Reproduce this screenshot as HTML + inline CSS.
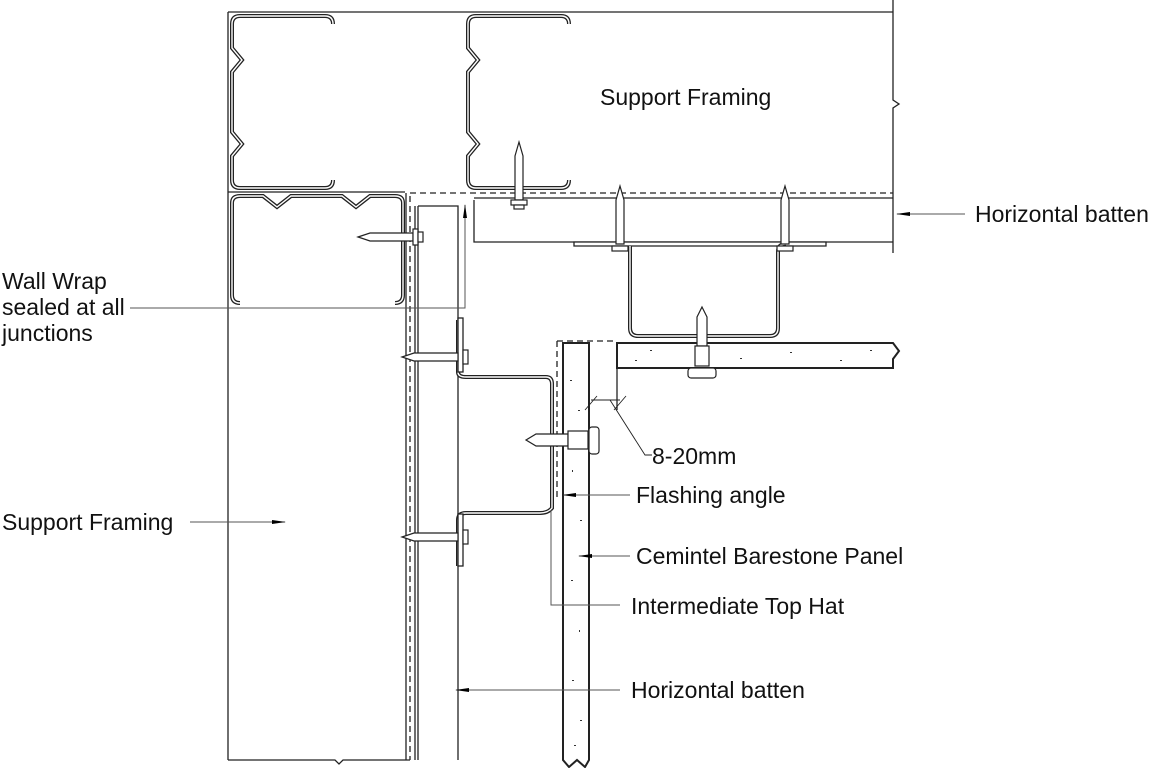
<!DOCTYPE html>
<html><head><meta charset="utf-8"><style>
html,body{margin:0;padding:0;background:#fff;width:1151px;height:768px;overflow:hidden}
text{font-family:"Liberation Sans",sans-serif;font-size:23px;fill:#111}
</style></head><body>
<svg width="1151" height="768" viewBox="0 0 1151 768" xmlns="http://www.w3.org/2000/svg">
<defs><marker id="a" markerWidth="14" markerHeight="6" refX="13" refY="3" orient="auto" markerUnits="userSpaceOnUse"><path d="M0,1 L14,3 L0,5z" fill="#000"/></marker></defs>
<g fill="none" stroke="#222" stroke-width="1.3">
<path d="M228,12 H893 M893,0 V100 l6,4 -6,4 V253 M228,12 V760 M228,760 H335 l4,4 4,-4 H410"/>
<g id="c1">
<path d="M333,24 Q333,16 325,16 H240 Q232,16 232,24 V48 L242,60 L232,72 V132 L242,144 L232,156 V180 Q232,188 240,188 H325 Q333,188 333,180" stroke-width="4"/>
<path d="M333,24 Q333,16 325,16 H240 Q232,16 232,24 V48 L242,60 L232,72 V132 L242,144 L232,156 V180 Q232,188 240,188 H325 Q333,188 333,180" stroke="#fff" stroke-width="1.4"/>
</g>
<g transform="translate(236,0)">
<path d="M333,24 Q333,16 325,16 H240 Q232,16 232,24 V48 L242,60 L232,72 V132 L242,144 L232,156 V180 Q232,188 240,188 H325 Q333,188 333,180" stroke-width="4"/>
<path d="M333,24 Q333,16 325,16 H240 Q232,16 232,24 V48 L242,60 L232,72 V132 L242,144 L232,156 V180 Q232,188 240,188 H325 Q333,188 333,180" stroke="#fff" stroke-width="1.4"/>
</g>
<path d="M228,192 H405"/>
<path d="M240,303 Q232,303 232,295 V203 Q232,196 240,196 H263 L277,207 L291,196 H342 L356,207 L370,196 H395 Q403,196 403,203 V295 Q403,303 395,303" stroke-width="4"/>
<path d="M240,303 Q232,303 232,295 V203 Q232,196 240,196 H263 L277,207 L291,196 H342 L356,207 L370,196 H395 Q403,196 403,203 V295 Q403,303 395,303" stroke="#fff" stroke-width="1.4"/>
<path d="M406,193 V760 M415,206 V760 M418,206 V760 M418,206 H458 V760"/>
<path d="M410,196 V760 M410,193 H893" stroke-dasharray="6,4"/>
<path d="M474,198 H893 M474,200 V242 H893"/>
<path d="M574,242 H826 V246 H574z" fill="#fff"/>
<path d="M630,246 V328 Q630,336 638,336 H770 Q778,336 778,328 V252 Q778,244 786,244" stroke-width="4"/>
<path d="M630,246 V328 Q630,336 638,336 H770 Q778,336 778,328 V252 Q778,244 786,244" stroke="#fff" stroke-width="1.4"/>
<path d="M617,343 H893 l6,8 -6,8 V368 H617z" stroke-width="2"/>
<path d="M557,341 H617 M557,341 V500" stroke-dasharray="6,4"/>
<path d="M617,368 V410"/>
<path d="M563,343 H589 V760 l-4,7 -8,-7 -8,7 -6,-7 V343z" stroke-width="2"/>
<path d="M458,320 V372 Q458,377 466,377 H546 Q552,377 552,384 V508 Q548,513 540,513 H466 Q458,513 458,520 V566" stroke-width="4"/>
<path d="M458,320 V372 Q458,377 466,377 H546 Q552,377 552,384 V508 Q548,513 540,513 H466 Q458,513 458,520 V566" stroke="#fff" stroke-width="1.4"/>
<rect x="458" y="318" width="5" height="54" fill="#fff"/>
<rect x="458" y="514" width="5" height="52" fill="#fff"/>
<g stroke-width="1.2" fill="#fff">
<path d="M358,237 L370,233 H413 V241 H370z"/><rect x="413" y="229" width="5" height="16"/><rect x="418" y="232" width="5" height="10"/>
<path d="M402,357 L414,353 H458 V361 H414z"/><rect x="463" y="350" width="5" height="14"/>
<path d="M402,537 L414,533 H458 V541 H414z"/><rect x="463" y="530" width="5" height="14"/>
<path d="M519,142 L523,156 V200 H515 V156z"/><rect x="511" y="200" width="16" height="5"/><rect x="514" y="205" width="10" height="4"/>
<path d="M620,186 L624,200 V244 H616 V200z"/><rect x="612" y="246" width="16" height="5"/>
<path d="M785,186 L789,200 V244 H781 V200z"/><rect x="777" y="246" width="16" height="5"/>
<path d="M702,307 L707,317 V346 H697 V317z"/><rect x="695" y="346" width="14" height="20"/><rect x="688" y="368" width="28" height="10" rx="3"/>
<path d="M526,440 L536,434 H568 V446 H536z"/><rect x="568" y="431" width="20" height="18"/><rect x="589" y="427" width="10" height="27" rx="3"/>
</g>
<path d="M591,400 H620 M585,410 l12,-14 M614,410 l12,-14 M610,400 L645,455 H652" stroke-width="0.9"/>
</g>
<g fill="#333">
<rect x="570" y="380" width="2" height="1"/><rect x="578" y="410" width="2" height="1"/><rect x="572" y="470" width="1" height="2"/><rect x="580" y="520" width="2" height="1"/><rect x="571" y="580" width="2" height="1"/><rect x="579" y="630" width="1" height="2"/><rect x="572" y="680" width="2" height="1"/><rect x="580" y="720" width="2" height="1"/><rect x="574" y="745" width="2" height="1"/>
<rect x="650" y="350" width="2" height="1"/><rect x="740" y="358" width="2" height="1"/><rect x="790" y="352" width="2" height="1"/><rect x="840" y="360" width="2" height="1"/><rect x="870" y="350" width="2" height="1"/><rect x="635" y="360" width="2" height="1"/>
</g>
<g stroke="#555" stroke-width="1" fill="none">
<path d="M130,308 H465 V205" marker-end="url(#a)"/>
<path d="M965,214 H897" marker-end="url(#a)"/>
<path d="M190,522 H285" marker-end="url(#a)"/>
<path d="M630,495 H563" marker-end="url(#a)"/>
<path d="M630,556 H579" marker-end="url(#a)"/>
<path d="M620,605 H551 V510"/>
<path d="M620,690 H456" marker-end="url(#a)"/>
</g>
<text x="600" y="105">Support Framing</text>
<text x="975" y="222">Horizontal batten</text>
<text x="2" y="289">Wall Wrap</text>
<text x="2" y="315">sealed at all</text>
<text x="2" y="341">junctions</text>
<text x="652" y="464">8-20mm</text>
<text x="636" y="503">Flashing angle</text>
<text x="636" y="564">Cemintel Barestone Panel</text>
<text x="631" y="614">Intermediate Top Hat</text>
<text x="631" y="698">Horizontal batten</text>
<text x="2" y="530">Support Framing</text>
</svg>
</body></html>
